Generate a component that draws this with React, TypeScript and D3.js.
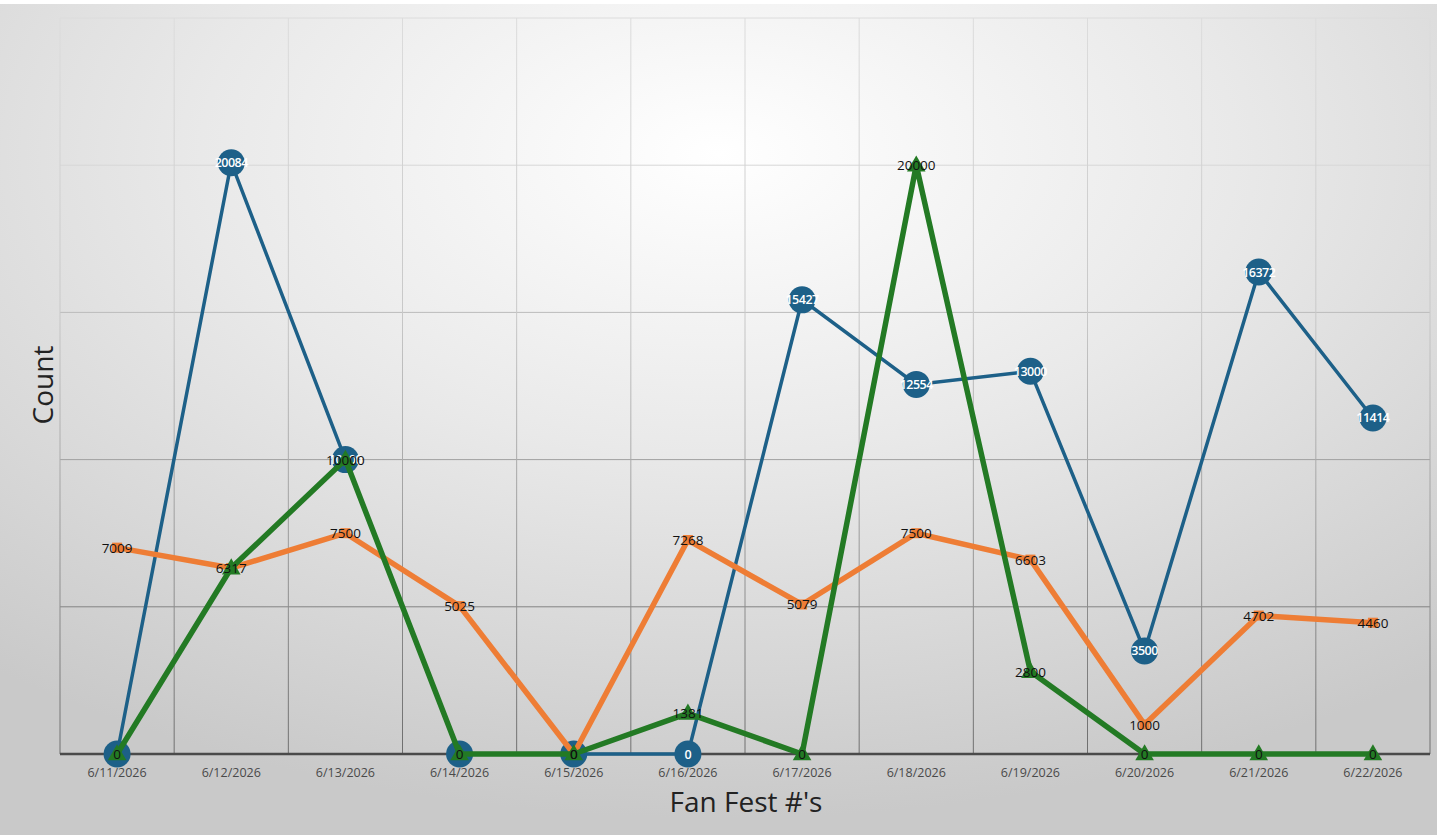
import React, { useEffect } from "react";
import * as d3 from "d3";

const dates = ["6/11/2026","6/12/2026","6/13/2026","6/14/2026","6/15/2026","6/16/2026","6/17/2026","6/18/2026","6/19/2026","6/20/2026","6/21/2026","6/22/2026"];
const blueValues = [0, 20084, 10000, 0, 0, 0, 15427, 12554, 13000, 3500, 16372, 11414];
const orangeValues = [7009, 6317, 7500, 5025, 0, 7268, 5079, 7500, 6603, 1000, 4702, 4460];
const greenValues = [0, 6317, 10000, 0, 0, 1381, 0, 20000, 2800, 0, 0, 0];
const yTicks = [0, 5000, 10000, 15000, 20000, 25000];

const W = 1442, H = 835;
const left = 60, right = 1430, top = 18, bottom = 754;
const BLUE = "#1d6088";
const ORANGE = "#ee7d35";
const GREEN = "#237a24";
const FONT = "'Open Sans', 'Segoe UI', sans-serif";

export default function App() {
  useEffect(() => {
    document.body.style.margin = "0";
  }, []);
  const x = d3.scaleBand<string>().domain(dates).range([left, right]).padding(0);
  const cx = (d: string) => (x(d) as number) + x.bandwidth() / 2;
  const y = d3.scaleLinear().domain([0, 25000]).range([bottom, top]);
  const line = d3.line<number>().x((_, i) => cx(dates[i])).y((v) => y(v));
  const gridCol = (yy: number) => d3.interpolateRgb("#dcdcdc", "#6e6e6e")(Math.max(0, Math.min(1, (yy - top) / (bottom - top) * 1.25 - 0.2)));
  const tri = d3.symbol().type(d3.symbolTriangle).size(150)();
  const vLines = [...dates.map((d) => x(d) as number), right];

  return (
    <svg width={W} height={H} style={{ display: "block", position: "absolute", left: 0, top: 0 }} fontFamily={FONT}>
      <defs>
        <radialGradient id="bg" cx="50%" cy="18%" r="80%" fx="50%" fy="18%">
          <stop offset="0%" stopColor="#ffffff" />
          <stop offset="45%" stopColor="#e9e9e9" />
          <stop offset="100%" stopColor="#c9c9c9" />
        </radialGradient>
        <linearGradient id="vgrid" gradientUnits="userSpaceOnUse" x1="0" y1={top} x2="0" y2={bottom}>
          <stop offset="0%" stopColor="#dcdcdc" />
          <stop offset="40%" stopColor="#c8c8c8" />
          <stop offset="100%" stopColor="#6e6e6e" />
        </linearGradient>
      </defs>
      <rect x={0} y={0} width={W} height={H} fill="#ffffff" />
      <rect x={0} y={4} width={W - 5} height={H - 4} fill="url(#bg)" />
      {/* grid */}
      {yTicks.map((t) => (
        <line key={"h" + t} x1={left} x2={right} y1={y(t)} y2={y(t)} stroke={gridCol(y(t))} strokeWidth={1} />
      ))}
      {vLines.map((vx, i) => (
        <line key={"v" + i} x1={vx} x2={vx} y1={top} y2={bottom} stroke="url(#vgrid)" strokeWidth={1} />
      ))}
      <line x1={left} x2={right} y1={bottom} y2={bottom} stroke="#4a4a4a" strokeWidth={2.5} />
      {/* x labels */}
      {dates.map((d) => (
        <text key={d} x={cx(d)} y={bottom + 23} textAnchor="middle" fontSize={12.5} fill="#4a4a4a">{d}</text>
      ))}
      <text x={746} y={812} textAnchor="middle" fontSize={28} fill="#222">Fan Fest #'s</text>
      <text transform={`translate(53,385) rotate(-90)`} textAnchor="middle" fontSize={28} fill="#222">Count</text>

      {/* blue */}
      <path d={line(blueValues) || ""} fill="none" stroke={BLUE} strokeWidth={3.5} />
      {blueValues.map((v, i) => (
        <circle key={"bc" + i} cx={cx(dates[i])} cy={y(v)} r={13.5} fill={BLUE} />
      ))}
      {blueValues.map((v, i) => (
        <text key={"bt" + i} x={cx(dates[i])} y={y(v) + 4.5} textAnchor="middle" fontSize={12.5} fontWeight={600} fill="#ffffff" letterSpacing={-0.5}>{v}</text>
      ))}

      {/* orange */}
      <path d={line(orangeValues) || ""} fill="none" stroke={ORANGE} strokeWidth={5.5} strokeLinejoin="round" />
      {orangeValues.map((v, i) => (
        <rect key={"or" + i} x={cx(dates[i]) - 5} y={y(v) - 5} width={10} height={10} fill={ORANGE} />
      ))}

      {/* green */}
      <path d={line(greenValues) || ""} fill="none" stroke={GREEN} strokeWidth={5.5} strokeLinejoin="round" />
      {greenValues.map((v, i) => (
        <path key={"gt" + i} d={tri || ""} transform={`translate(${cx(dates[i])},${y(v) + 1})`} fill={GREEN} />
      ))}

      {/* labels */}
      {orangeValues.map((v, i) => (
        <text key={"ot" + i} x={cx(dates[i])} y={y(v) + 5} textAnchor="middle" fontSize={13.5} fill="#111">{v}</text>
      ))}
      {greenValues.map((v, i) => (i === 1 ? null : (
        <text key={"gl" + i} x={cx(dates[i])} y={y(v) + 5} textAnchor="middle" fontSize={13.5} fill="#111">{v}</text>
      )))}
    </svg>
  );
}
